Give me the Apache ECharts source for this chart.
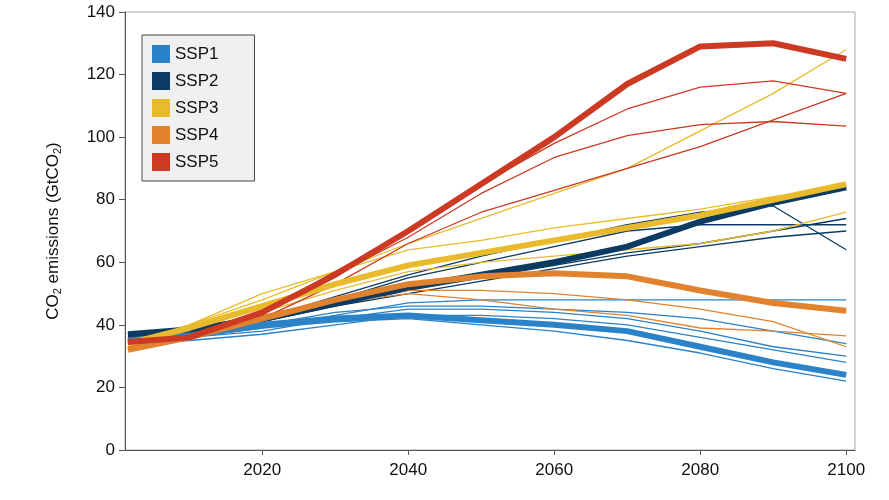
<!DOCTYPE html>
<html>
<head>
<meta charset="utf-8">
<script src="https://cdn.jsdelivr.net/npm/echarts@6/dist/echarts.min.js"></script>
<style>html,body{margin:0;background:#fff}#c{width:889px;height:500px}</style>
</head>
<body>
<div id="c"></div>
<script>
// years on x (first point drawn where the reference starts)
var years = [2001.6, 2010, 2020, 2030, 2040, 2050, 2060, 2070, 2080, 2090, 2100];
var tickYears = [2020, 2040, 2060, 2080, 2100];

// marker scenarios (thick lines)
var ssp1 = [35, 37, 40, 42, 43, 41.5, 40, 38, 33, 28, 24];
var ssp2 = [37, 38.5, 42, 47, 52, 56, 60, 65, 73, 79, 84];
var ssp3 = [34, 39, 46, 53, 59, 63, 67, 71, 75, 80, 85];
var ssp4 = [32, 36, 42, 48, 53, 55.5, 56.5, 55.5, 51, 47, 44.5];
var ssp5 = [34.5, 36, 44, 56, 70, 85, 100, 117, 129, 130, 125];

// other models (thin lines)
var ssp1Other = [
  [34, 36, 39, 43, 47, 48, 48, 48, 48, 48, 48],
  [35, 36, 40, 44, 46, 46, 45, 44, 42, 38, 34],
  [35, 36, 38, 42, 45, 45, 44, 42, 38, 33, 30],
  [34, 35, 37, 40, 43, 43, 42, 40, 36, 32, 28],
  [35, 36, 39, 41, 42, 40, 38, 35, 31, 26, 22]
];
var ssp2Other = [
  [37, 38, 42, 49, 56, 62, 67, 72, 76, 78, 64],
  [37, 38, 42, 48, 55, 60, 65, 70, 72, 72, 72],
  [36, 38, 41, 46, 51, 55, 59, 63, 66, 70, 74],
  [36, 37, 41, 46, 50, 54, 58, 62, 65, 68, 70]
];
var ssp3Other = [
  [34, 40, 50, 57, 64, 67, 71, 74, 77, 81, 84],
  [34, 40, 48, 57, 66, 74, 82, 90, 102, 114, 128],
  [33, 38, 44, 51, 57, 60, 62, 64, 66, 70, 76]
];
var ssp4Other = [
  [32, 36, 42, 47, 50, 48, 45, 43, 39, 38, 36.5],
  [33, 37, 43, 48, 51, 51, 50, 48, 45, 41, 33]
];
var ssp5Other = [
  [35, 37, 44, 57, 70, 85, 98, 109, 116, 118, 114],
  [35, 37, 44, 56, 68, 82, 93.5, 100.5, 104, 105, 103.5],
  [34, 36, 42, 53, 66, 76, 83, 90, 97, 105.5, 114]
];

var names = ['SSP1', 'SSP2', 'SSP3', 'SSP4', 'SSP5'];
var colors = ['#2a82c8', '#0b3b62', '#e9bb2c', '#e0822e', '#cc3a24'];
var markers = [ssp1, ssp2, ssp3, ssp4, ssp5];
var others = [ssp1Other, ssp2Other, ssp3Other, ssp4Other, ssp5Other];

function pairs(v) {
  return v.map(function (y, i) { return [years[i], y]; });
}

var series = [];
// thin ones first so the thick markers sit on top
others.forEach(function (group, k) {
  group.forEach(function (v, j) {
    series.push({
      name: names[k] + '_o' + j, type: 'line', data: pairs(v), symbol: 'none',
      lineStyle: { width: 1.3, color: colors[k] }, z: 2, silent: true
    });
  });
});
markers.forEach(function (v, k) {
  series.push({
    name: names[k], type: 'line', data: pairs(v), symbol: 'none',
    itemStyle: { color: colors[k] },
    lineStyle: { width: 6, color: colors[k] }, z: 3
  });
});

var chart = echarts.init(document.getElementById('c'));
chart.setOption({
  animation: false,
  grid: { left: 125, right: 34, top: 12, bottom: 50, show: true, borderColor: '#aaa', borderWidth: 1 },
  legend: {
    data: names, orient: 'vertical', left: 142, top: 35,
    itemWidth: 18, itemHeight: 18, itemGap: 9, icon: 'rect',
    backgroundColor: '#f0f0f0', borderColor: '#444', borderWidth: 1,
    padding: [10, 36, 10, 10],
    textStyle: { fontFamily: 'Liberation Sans', fontSize: 17, color: '#111' }
  },
  xAxis: {
    type: 'value', min: 2001.2, max: 2101.2,
    axisLine: { lineStyle: { color: '#555' } },
    axisTick: { customValues: tickYears, length: 5, lineStyle: { color: '#555' } },
    axisLabel: {
      customValues: tickYears, fontFamily: 'Liberation Sans', fontSize: 17, color: '#111', margin: 12,
      formatter: function (v) { return String(v); }
    },
    splitLine: { show: false }
  },
  yAxis: {
    type: 'value', min: 0, max: 140, interval: 20,
    name: '{a|CO}{s|2}{a| emissions (GtCO}{s|2}{a|)}',
    nameLocation: 'middle', nameGap: 62, nameRotate: 90,
    nameTextStyle: {
      rich: {
        a: { fontFamily: 'Liberation Sans', fontSize: 17, color: '#111' },
        s: { fontFamily: 'Liberation Sans', fontSize: 11, color: '#111', verticalAlign: 'bottom', padding: [8, 0, 0, 0] }
      }
    },
    axisLine: { show: true, lineStyle: { color: '#555' } },
    axisTick: { show: true, length: 6, lineStyle: { color: '#555' } },
    axisLabel: { fontFamily: 'Liberation Sans', fontSize: 17, color: '#111', margin: 10 },
    splitLine: { show: false }
  },
  series: series
});
</script>
</body>
</html>
